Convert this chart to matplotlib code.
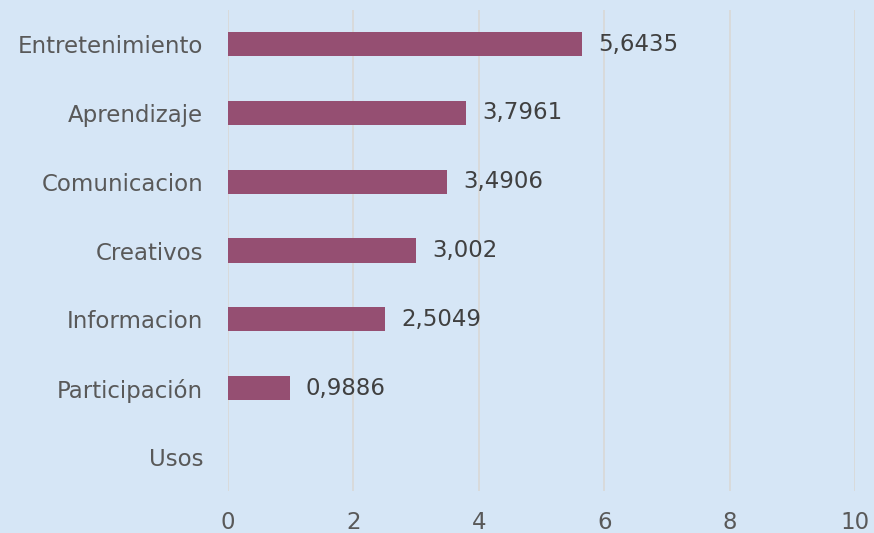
import matplotlib
matplotlib.use("Agg")
import matplotlib.pyplot as plt

plt.rcParams["font.family"] = ["DejaVu Sans"]

categories = ["Usos", "Participación", "Informacion", "Creativos", "Comunicacion", "Aprendizaje", "Entretenimiento"]
values = [None, 0.9886, 2.5049, 3.002, 3.4906, 3.7961, 5.6435]
value_labels = ["", "0,9886", "2,5049", "3,002", "3,4906", "3,7961", "5,6435"]
xticks = [0, 2, 4, 6, 8, 10]

bg = "#D6E6F6"
fig = plt.figure(figsize=(8.74, 5.33), dpi=100, facecolor=bg)
ax = fig.add_axes([0.2609, 0.078, 0.9783 - 0.2609, 0.982 - 0.078], facecolor=bg)

fs = 16.5
ypos = list(range(len(categories)))
for y, v, lab in zip(ypos, values, value_labels):
    if v is None:
        continue
    ax.barh(y, v, height=0.35, color="#954F72", zorder=3)
    ax.annotate(lab, (v, y), xytext=(11.5, 0), textcoords="offset points",
                va="center", ha="left", fontsize=fs, color="#404040")

ax.set_xlim(0, 10)
ax.set_ylim(-0.5, 6.5)
ax.set_xticks(xticks)
ax.set_xticklabels([str(t) for t in xticks])
ax.set_yticks(ypos)
ax.set_yticklabels(categories)
ax.grid(axis="x", color="#D9D9D9", linewidth=1.3, zorder=0)
for s in ax.spines.values():
    s.set_visible(False)
ax.tick_params(axis="both", length=0, labelsize=fs, labelcolor="#595959")
ax.tick_params(axis="y", pad=18)
ax.tick_params(axis="x", pad=14)

fig.savefig("out.png", dpi=100, facecolor=bg)
